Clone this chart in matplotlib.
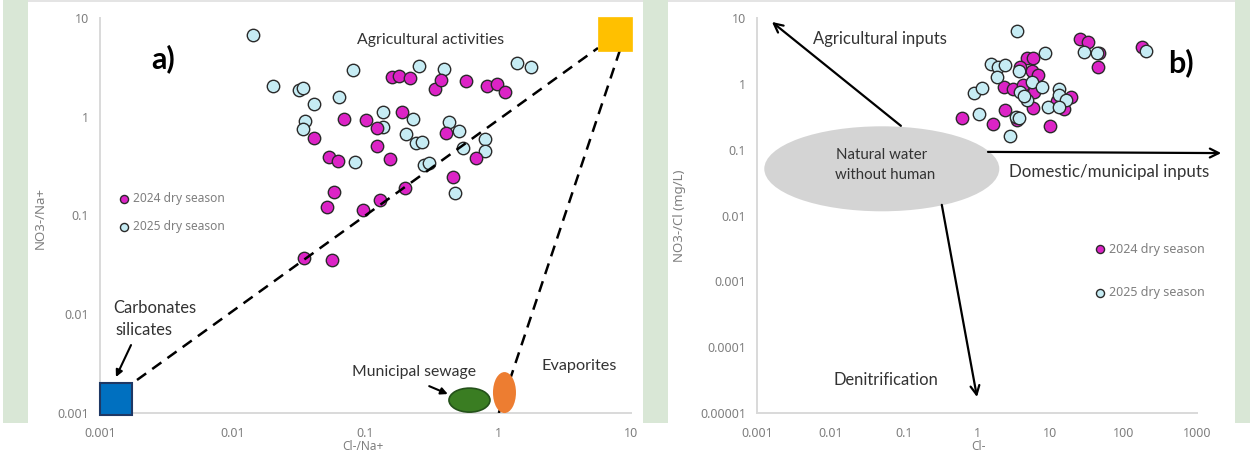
import matplotlib
matplotlib.use("Agg")
import matplotlib.pyplot as plt
from matplotlib.patches import Ellipse, Rectangle
from matplotlib.transforms import ScaledTranslation

plt.rcParams['font.family'] = ['Lato', 'DejaVu Sans']

# ---------------- data ----------------
# a) NO3-/Na+ versus Cl-/Na+
a_2024_cl_na = [0.158, 0.179, 0.216, 0.334, 0.371, 0.571, 0.822, 0.98, 1.12,
                0.0689, 0.101, 0.122, 0.188, 0.0409, 0.0531, 0.0621, 0.122, 0.153,
                0.404, 0.68, 0.456, 0.058, 0.0513, 0.0957, 0.1285, 0.199, 0.0344, 0.056]
a_2024_no3_na = [2.53, 2.59, 2.47, 1.91, 2.36, 2.30, 2.05, 2.15, 1.78,
                 0.95, 0.93, 0.77, 1.12, 0.61, 0.39, 0.356, 0.506, 0.373,
                 0.684, 0.382, 0.245, 0.173, 0.122, 0.114, 0.1435, 0.19, 0.0372, 0.0354]
a_2025_cl_na = [0.0142, 0.0201, 0.0316, 0.0338, 0.0409, 0.063, 0.0805, 0.035, 0.0338,
                0.0834, 0.1355, 0.1355, 0.228, 0.202, 0.24, 0.267, 0.253, 0.39,
                0.425, 0.506, 0.276, 0.30, 0.54, 0.79, 0.79, 0.47, 1.38, 1.77]
a_2025_no3_na = [6.7, 2.05, 1.87, 1.95, 1.35, 1.58, 2.97, 0.91, 0.75,
                 0.35, 1.12, 0.79, 0.95, 0.67, 0.54, 0.555, 3.27, 3.05,
                 0.885, 0.72, 0.324, 0.34, 0.48, 0.60, 0.45, 0.169, 3.5, 3.19]

# b) NO3-/Cl versus Cl-
b_2024_cl = [25.5, 32.8, 46.3, 44.9, 4.82, 5.82, 3.87, 5.65, 6.8, 2.34, 3.11,
             4.26, 6.0, 5.82, 2.42, 3.52, 1.66, 0.63, 9.9, 19.2, 15.4, 12.4, 179]
b_2024_no3_cl = [4.83, 4.35, 2.96, 1.81, 2.48, 2.48, 1.81, 1.58, 1.37, 0.90, 0.84,
                 0.97, 0.755, 0.43, 0.40, 0.284, 0.247, 0.30, 0.23, 0.63, 0.42, 0.55, 3.65]
b_2025_cl = [3.52, 8.5, 1.56, 1.94, 2.42, 1.88, 3.75, 5.65, 7.7, 3.87, 4.82, 4.4,
             9.3, 13.2, 13.2, 16.4, 13.2, 0.91, 1.17, 1.07, 3.41, 3.75, 2.83, 28.9, 43.5, 203]
b_2025_no3_cl = [6.4, 2.96, 2.01, 1.81, 1.94, 1.28, 1.58, 1.07, 0.90, 0.755, 0.57, 0.66,
                 0.45, 0.84, 0.68, 0.57, 0.45, 0.73, 0.87, 0.35, 0.315, 0.30, 0.162, 3.06, 2.96, 3.18]

# end members of panel a (Cl-/Na+, NO3-/Na+)
carbonates_em = (0.00131, 0.00139)
agriculture_em = (7.6, 6.9)
sewage_em = (0.607, 0.00135)
evaporites_em = (1.114, 0.00161)
mixing_line_1 = ([0.0019, 5.64], [0.00216, 4.97])
mixing_line_2 = ([8.26, 1.01], [4.74, 0.001])

# natural-water field of panel b (Cl-, NO3-/Cl)
natural_water_center = (0.0503, 0.0512)

ticks_a = [0.001, 0.01, 0.1, 1, 10]
tick_labels_a = ["0.001", "0.01", "0.1", "1", "10"]
xticks_b = [0.001, 0.01, 0.1, 1, 10, 100, 1000]
xtick_labels_b = ["0.001", "0.01", "0.1", "1", "10", "100", "1000"]
yticks_b = [0.00001, 0.0001, 0.001, 0.01, 0.1, 1, 10]
ytick_labels_b = ["0.00001", "0.0001", "0.001", "0.01", "0.1", "1", "10"]

season_labels = ["2024 dry season", "2025 dry season"]

# ---------------- styles ----------------
W, H = 1260, 454
MAGENTA = "#dc23c6"
LIGHTBLUE = "#c6ecf4"
EDGE = "#2a2a2a"
GREEN_BG = "#d9e7d6"
AXIS_GRAY = "#d9d9d9"
TICK_GRAY = "#7f7f7f"
TEXT_DARK = "#333333"
SMALL_FONT = ['Noto Sans', 'DejaVu Sans']

fig = plt.figure(figsize=(W / 100, H / 100), dpi=100)
fig.patch.set_facecolor("white")


def frac_box(x0, y0, x1, y1):
    return [x0 / W, 1 - y1 / H, (x1 - x0) / W, (y1 - y0) / H]


# page background strips
for x0, x1 in [(3, 28), (643, 668), (1235, 1250)]:
    fig.add_artist(Rectangle((x0 / W, 1 - 423 / H), (x1 - x0) / W, 423 / H,
                             transform=fig.transFigure, facecolor=GREEN_BG,
                             edgecolor="none", zorder=0))
for x0, x1 in [(28, 643), (668, 1235)]:
    fig.add_artist(Rectangle((x0 / W, 1 - 2 / H), (x1 - x0) / W, 2 / H,
                             transform=fig.transFigure, facecolor="#e4e4e4",
                             edgecolor="none", zorder=0))

ax_a = fig.add_axes(frac_box(100, 18, 631, 413))
ax_b = fig.add_axes(frac_box(757, 18, 1197, 413))


def style_axes(ax, xt, xl, yt, yl):
    ax.set_xscale("log")
    ax.set_yscale("log")
    ax.set_facecolor("none")
    for s in ["top", "right"]:
        ax.spines[s].set_visible(False)
    for s in ["left", "bottom"]:
        ax.spines[s].set_color(AXIS_GRAY)
        ax.spines[s].set_linewidth(1.4)
    ax.set_xticks(xt, xl)
    ax.set_yticks(yt, yl)
    ax.minorticks_off()
    ax.tick_params(length=0, labelsize=9, labelcolor=TICK_GRAY)
    ax.tick_params(axis="x", pad=10)
    ax.tick_params(axis="y", pad=8)
    for lab in ax.get_xticklabels() + ax.get_yticklabels():
        lab.set_family(SMALL_FONT)


style_axes(ax_a, ticks_a, tick_labels_a, ticks_a, tick_labels_a)
ax_a.set_xlim(0.001, 10)
ax_a.set_ylim(0.001, 10)
style_axes(ax_b, xticks_b, xtick_labels_b, yticks_b, ytick_labels_b)
ax_b.set_xlim(0.001, 1000)
ax_b.set_ylim(0.00001, 10)

pt_kw = dict(s=80, edgecolors=EDGE, linewidths=1.0, zorder=4, clip_on=False)

# ---------------- panel a ----------------
ax_a.scatter(a_2025_cl_na, a_2025_no3_na, color=LIGHTBLUE, **pt_kw)
ax_a.scatter(a_2024_cl_na, a_2024_no3_na, color=MAGENTA, **pt_kw)

ax_a.plot(*mixing_line_1, color="black", lw=1.8, dashes=(4.5, 3), zorder=5)
ax_a.plot(*mixing_line_2, color="black", lw=1.8, dashes=(4.5, 3), zorder=5)

ax_a.plot(*carbonates_em, marker="s", ms=22.5, mfc="#0070c0", mec="#1f3864",
          mew=1.5, clip_on=False, zorder=6)
ax_a.plot(*agriculture_em, marker="s", ms=24, mfc="#ffc000", mec="#ffc000",
          mew=0.5, clip_on=False, zorder=6)


def ellipse_at(ax, xy, w_px, h_px, **kw):
    tr = fig.dpi_scale_trans + ScaledTranslation(xy[0], xy[1], ax.transData)
    e = Ellipse((0, 0), w_px / 100, h_px / 100, transform=tr, clip_on=False, **kw)
    ax.add_artist(e)
    return e


ellipse_at(ax_a, sewage_em, 41, 24, facecolor="#3a7d22", edgecolor="#24511a",
           lw=1.2, zorder=6)
ellipse_at(ax_a, evaporites_em, 23, 41, facecolor="#ed7d31", edgecolor="none",
           zorder=6)

ax_a.text(0.119, 0.897, "a)", transform=ax_a.transAxes, ha="center", va="center",
          fontsize=22, fontweight="bold", color="black")
ax_a.text(0.623, 0.944, "Agricultural activities", transform=ax_a.transAxes,
          ha="center", va="center", fontsize=11.4, color=TEXT_DARK)
ax_a.text(0.0245, 0.266, "Carbonates", transform=ax_a.transAxes, ha="left",
          va="center", fontsize=11.9, color=TEXT_DARK)
ax_a.text(0.030, 0.210, "silicates", transform=ax_a.transAxes, ha="left",
          va="center", fontsize=11.9, color=TEXT_DARK)
ax_a.annotate("", xy=(0.030, 0.091), xytext=(0.0584, 0.172),
              xycoords="axes fraction", textcoords="axes fraction",
              arrowprops=dict(arrowstyle="-|>", color="black", lw=1.5,
                              mutation_scale=10, shrinkA=0, shrinkB=0))
ax_a.text(0.591, 0.104, "Municipal sewage", transform=ax_a.transAxes,
          ha="center", va="center", fontsize=11.3, color=TEXT_DARK)
ax_a.annotate("", xy=(0.655, 0.048), xytext=(0.620, 0.068),
              xycoords="axes fraction", textcoords="axes fraction",
              arrowprops=dict(arrowstyle="-|>", color="black", lw=1.5,
                              mutation_scale=10, shrinkA=0, shrinkB=0))
ax_a.text(0.902, 0.119, "Evaporites", transform=ax_a.transAxes,
          ha="center", va="center", fontsize=11.7, color=TEXT_DARK)

# legend of panel a
leg_kw = dict(s=34, edgecolors=EDGE, linewidths=1.0, transform=ax_a.transAxes,
              clip_on=False, zorder=6)
ax_a.scatter([0.046], [0.542], color=MAGENTA, **leg_kw)
ax_a.scatter([0.046], [0.471], color=LIGHTBLUE, **leg_kw)
ax_a.text(0.062, 0.542, season_labels[0], transform=ax_a.transAxes, va="center",
          fontsize=8.6, color=TICK_GRAY, family=SMALL_FONT)
ax_a.text(0.062, 0.471, season_labels[1], transform=ax_a.transAxes, va="center",
          fontsize=8.6, color=TICK_GRAY, family=SMALL_FONT)

fig.text(40 / W, 1 - 218 / H, "NO3-/Na+", rotation=90, ha="center", va="center",
         fontsize=9.5, color=TICK_GRAY, family=SMALL_FONT)
fig.text(363 / W, 1 - 446 / H, "Cl-/Na+", ha="center", va="center",
         fontsize=8.5, color=TICK_GRAY, family=SMALL_FONT)

# ---------------- panel b ----------------
ellipse_at(ax_b, natural_water_center, 235, 85,
           facecolor="#d4d4d4", edgecolor="none", zorder=2)
ax_b.text(0.284, 0.653, "Natural water", transform=ax_b.transAxes, ha="center",
          va="center", fontsize=10.8, color=TEXT_DARK, zorder=3)
ax_b.text(0.291, 0.603, "without human", transform=ax_b.transAxes, ha="center",
          va="center", fontsize=10.8, color=TEXT_DARK, zorder=3)

arrow_b = dict(arrowstyle="->", color="black", lw=1.6, mutation_scale=16,
               shrinkA=0, shrinkB=0)
for start, end in [((0.327, 0.727), (0.034, 0.990)),
                   ((0.525, 0.661), (1.055, 0.658)),
                   ((0.420, 0.527), (0.500, 0.0405))]:
    ax_b.annotate("", xy=end, xytext=start, xycoords="axes fraction",
                  textcoords="axes fraction", arrowprops=arrow_b,
                  annotation_clip=False, zorder=3)

ax_b.text(0.280, 0.947, "Agricultural inputs", transform=ax_b.transAxes,
          ha="center", va="center", fontsize=12, color=TEXT_DARK)
ax_b.text(0.800, 0.610, "Domestic/municipal inputs", transform=ax_b.transAxes,
          ha="center", va="center", fontsize=12.2, color=TEXT_DARK)
ax_b.text(0.293, 0.0835, "Denitrification", transform=ax_b.transAxes,
          ha="center", va="center", fontsize=11.9, color=TEXT_DARK)
ax_b.text(0.964, 0.886, "b)", transform=ax_b.transAxes, ha="center", va="center",
          fontsize=22, fontweight="bold", color="black")

ax_b.scatter(b_2024_cl, b_2024_no3_cl, color=MAGENTA, **pt_kw)
ax_b.scatter(b_2025_cl, b_2025_no3_cl, color=LIGHTBLUE, **pt_kw)

leg_kw["transform"] = ax_b.transAxes
ax_b.scatter([0.780], [0.415], color=MAGENTA, **leg_kw)
ax_b.scatter([0.780], [0.304], color=LIGHTBLUE, **leg_kw)
ax_b.text(0.800, 0.415, season_labels[0], transform=ax_b.transAxes, va="center",
          fontsize=9, color=TICK_GRAY, family=SMALL_FONT)
ax_b.text(0.800, 0.304, season_labels[1], transform=ax_b.transAxes, va="center",
          fontsize=9, color=TICK_GRAY, family=SMALL_FONT)

fig.text(680 / W, 1 - 216 / H, "NO3-/Cl (mg/L)", rotation=90, ha="center",
         va="center", fontsize=9.5, color=TICK_GRAY, family=SMALL_FONT)
fig.text(979 / W, 1 - 446 / H, "Cl-", ha="center", va="center",
         fontsize=8.5, color=TICK_GRAY, family=SMALL_FONT)

fig.savefig("out.png", dpi=100, facecolor="white")
